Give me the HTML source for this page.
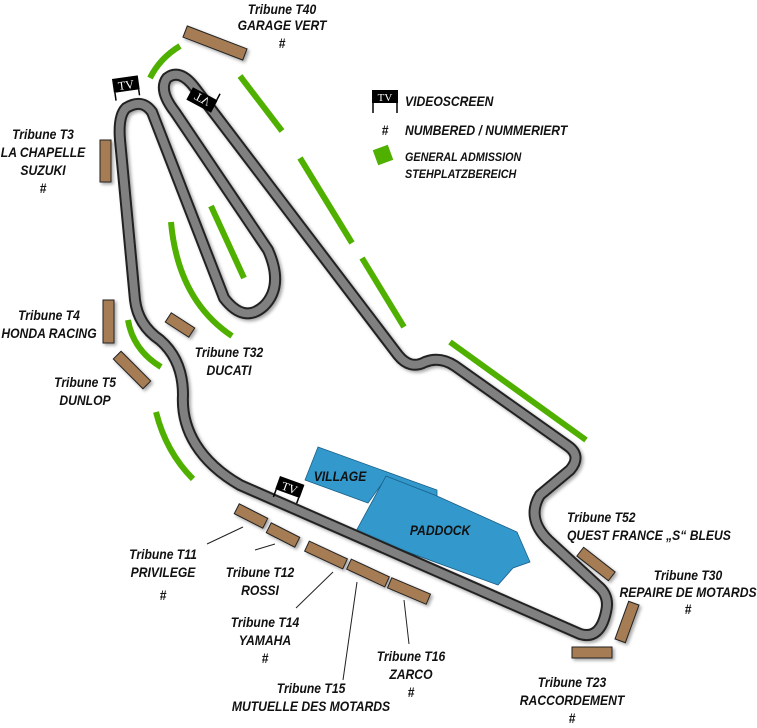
<!DOCTYPE html>
<html><head><meta charset="utf-8"><style>
html,body{margin:0;padding:0;background:#fff;}
svg{display:block;}
.t{font-family:"Liberation Sans",sans-serif;font-weight:bold;font-style:italic;font-size:13.5px;fill:#111;text-anchor:middle;transform-box:fill-box;transform-origin:center;transform:scaleX(0.9);}
.l{text-anchor:start;transform-origin:left center;}
.s{font-size:12px;}
.g{fill:none;stroke:#4fb000;stroke-width:6;}
.b{fill:#a57c52;stroke:#222;stroke-width:1;}
.ld{stroke:#222;stroke-width:1;}
</style></head><body>
<svg width="757" height="728" viewBox="0 0 757 728" xmlns="http://www.w3.org/2000/svg">
<defs><filter id="sh" x="-5%" y="-5%" width="110%" height="110%"><feDropShadow dx="2" dy="2" stdDeviation="1.5" flood-opacity="0.35"/></filter></defs>
<polygon points="318,447 437,490 437,497 386,478 368,503 305,480" fill="#3399cc" stroke="#1a5f88" stroke-width="0.8"/>
<polygon points="386,476 437,496 517,532 530,562 513,568 498,585 355,533" fill="#3399cc" stroke="#1a5f88" stroke-width="0.8"/>
<text class="t" x="340" y="481">VILLAGE</text>
<text class="t" x="440" y="535">PADDOCK</text>
<g filter="url(#sh)">
<path d="M183,395 C181,430 200,462 240,485 L580,634 Q600,640 606,612 Q610,596 598,586 L548,540 Q526,518 540,495 L570,470 Q582,456 568,446 L455,366 Q440,356 425,362 Q410,370 398,355 L195,88 Q180,68 167,78 Q158,90 175,112 L268,250 Q284,286 264,306 Q244,324 224,298 L152,112 Q142,98 126,108 Q118,116 120,140 L135,300 Q138,325 160,340 Q183,360 183,395 Z" fill="none" stroke="#222" stroke-width="12" stroke-linejoin="round"/>
<path d="M183,395 C181,430 200,462 240,485 L580,634 Q600,640 606,612 Q610,596 598,586 L548,540 Q526,518 540,495 L570,470 Q582,456 568,446 L455,366 Q440,356 425,362 Q410,370 398,355 L195,88 Q180,68 167,78 Q158,90 175,112 L268,250 Q284,286 264,306 Q244,324 224,298 L152,112 Q142,98 126,108 Q118,116 120,140 L135,300 Q138,325 160,340 Q183,360 183,395 Z" fill="none" stroke="#808080" stroke-width="8" stroke-linejoin="round"/>
</g>
<path class="g" d="M150,78 Q160,58 180,46"/>
<line class="g" x1="240" y1="76" x2="282" y2="131"/>
<line class="g" x1="300" y1="158" x2="352" y2="243"/>
<line class="g" x1="362" y1="258" x2="404" y2="327"/>
<line class="g" x1="450" y1="342" x2="586" y2="440"/>
<line class="g" x1="211" y1="206" x2="244" y2="278"/>
<path class="g" d="M171,222 Q178,300 232,336"/>
<path class="g" d="M128,320 Q133,350 161,367"/>
<path class="g" d="M156,412 Q166,452 193,479"/>
<g filter="url(#sh)">
<rect class="b" x="-32" y="-6" width="64" height="12" transform="translate(215,43) rotate(21)"/>
<rect class="b" x="100" y="140" width="11" height="42"/>
<rect class="b" x="103" y="300" width="11" height="43"/>
<rect class="b" x="-21" y="-5.5" width="42" height="11" transform="translate(132,370) rotate(45)"/>
<rect class="b" x="-14" y="-5.5" width="28" height="11" transform="translate(180,325) rotate(33)"/>
<rect class="b" x="-16" y="-5.5" width="32" height="11" transform="translate(251,516) rotate(27)"/>
<rect class="b" x="-16" y="-5.5" width="32" height="11" transform="translate(283,535) rotate(27)"/>
<rect class="b" x="-21" y="-5.5" width="42" height="11" transform="translate(326,555) rotate(25)"/>
<rect class="b" x="-21" y="-5.5" width="42" height="11" transform="translate(368,573) rotate(25)"/>
<rect class="b" x="-21" y="-5.5" width="42" height="11" transform="translate(409,591) rotate(23)"/>
<rect class="b" x="-20" y="-5.5" width="40" height="11" transform="translate(596,564) rotate(38)"/>
<rect class="b" x="-20" y="-5.5" width="40" height="11" transform="translate(627,622) rotate(-70)"/>
<rect class="b" x="572" y="647" width="40" height="11"/>
</g>
<line class="ld" x1="207" y1="544" x2="243" y2="527"/>
<line class="ld" x1="255" y1="550" x2="275" y2="544"/>
<line class="ld" x1="296" y1="608" x2="333" y2="572"/>
<line class="ld" x1="343" y1="680" x2="357" y2="582"/>
<line class="ld" x1="409" y1="644" x2="404" y2="600"/>
<g transform="translate(112,79) rotate(-8)"><rect x="0" y="0" width="26" height="14" fill="#000"/><line x1="1" y1="14" x2="1" y2="22" stroke="#000" stroke-width="1.5"/><line x1="25" y1="14" x2="25" y2="20" stroke="#000" stroke-width="1.5"/><text x="13" y="12" fill="#fff" font-family="Liberation Serif,serif" font-size="12" text-anchor="middle">TV</text></g>
<g transform="translate(202,100) rotate(208)"><rect x="-14" y="-7" width="28" height="14" fill="#000"/><text x="0" y="5" fill="#fff" font-family="Liberation Serif,serif" font-size="12" text-anchor="middle" transform="scale(-1,1)">TV</text><line x1="-13" y1="7" x2="-13" y2="14" stroke="#000" stroke-width="1.5"/></g>
<g transform="translate(280,476) rotate(20)"><rect x="0" y="0" width="26" height="14" fill="#000"/><line x1="1" y1="14" x2="1" y2="22" stroke="#000" stroke-width="1.5"/><line x1="25" y1="14" x2="25" y2="20" stroke="#000" stroke-width="1.5"/><text x="13" y="12" fill="#fff" font-family="Liberation Serif,serif" font-size="12" text-anchor="middle">TV</text></g>
<rect x="372" y="90" width="26" height="13" fill="#000"/><line x1="373" y1="103" x2="373" y2="113" stroke="#000" stroke-width="1.5"/><line x1="397" y1="103" x2="397" y2="113" stroke="#000" stroke-width="1.5"/>
<text x="385" y="101" fill="#fff" font-family="Liberation Serif,serif" font-size="11" text-anchor="middle">TV</text>
<text class="t l" x="405" y="106">VIDEOSCREEN</text>
<text class="t" x="385" y="135">#</text>
<text class="t l" x="405" y="135">NUMBERED / NUMMERIERT</text>
<rect x="-8" y="-8" width="16" height="16" fill="#4fb000" transform="translate(383,155) rotate(-20)"/>
<text class="t l s" x="405" y="161">GENERAL ADMISSION</text>
<text class="t l s" x="405" y="178">STEHPLATZBEREICH</text>
<text class="t" x="282" y="14">Tribune T40</text><text class="t" x="282" y="30">GARAGE VERT</text><text class="t" x="282" y="48">#</text>
<text class="t" x="43" y="139">Tribune T3</text><text class="t" x="43" y="157">LA CHAPELLE</text><text class="t" x="43" y="175">SUZUKI</text><text class="t" x="43" y="193">#</text>
<text class="t" x="49" y="320">Tribune T4</text><text class="t" x="49" y="338">HONDA RACING</text>
<text class="t" x="85" y="387">Tribune T5</text><text class="t" x="85" y="405">DUNLOP</text>
<text class="t" x="229" y="357">Tribune T32</text><text class="t" x="229" y="375">DUCATI</text>
<text class="t" x="163" y="559">Tribune T11</text><text class="t" x="163" y="577">PRIVILEGE</text><text class="t" x="163" y="600">#</text>
<text class="t" x="260" y="577">Tribune T12</text><text class="t" x="260" y="595">ROSSI</text>
<text class="t" x="265" y="627">Tribune T14</text><text class="t" x="265" y="645">YAMAHA</text><text class="t" x="265" y="663">#</text>
<text class="t" x="311" y="693">Tribune T15</text><text class="t" x="311" y="711">MUTUELLE DES MOTARDS</text>
<text class="t" x="411" y="661">Tribune T16</text><text class="t" x="411" y="679">ZARCO</text><text class="t" x="411" y="697">#</text>
<text class="t l" x="567" y="522">Tribune T52</text><text class="t l" x="567" y="540">QUEST FRANCE „S“ BLEUS</text>
<text class="t" x="688" y="580">Tribune T30</text><text class="t" x="688" y="597">REPAIRE DE MOTARDS</text><text class="t" x="688" y="614">#</text>
<text class="t" x="572" y="687">Tribune T23</text><text class="t" x="572" y="705">RACCORDEMENT</text><text class="t" x="572" y="723">#</text>
</svg>
</body></html>
